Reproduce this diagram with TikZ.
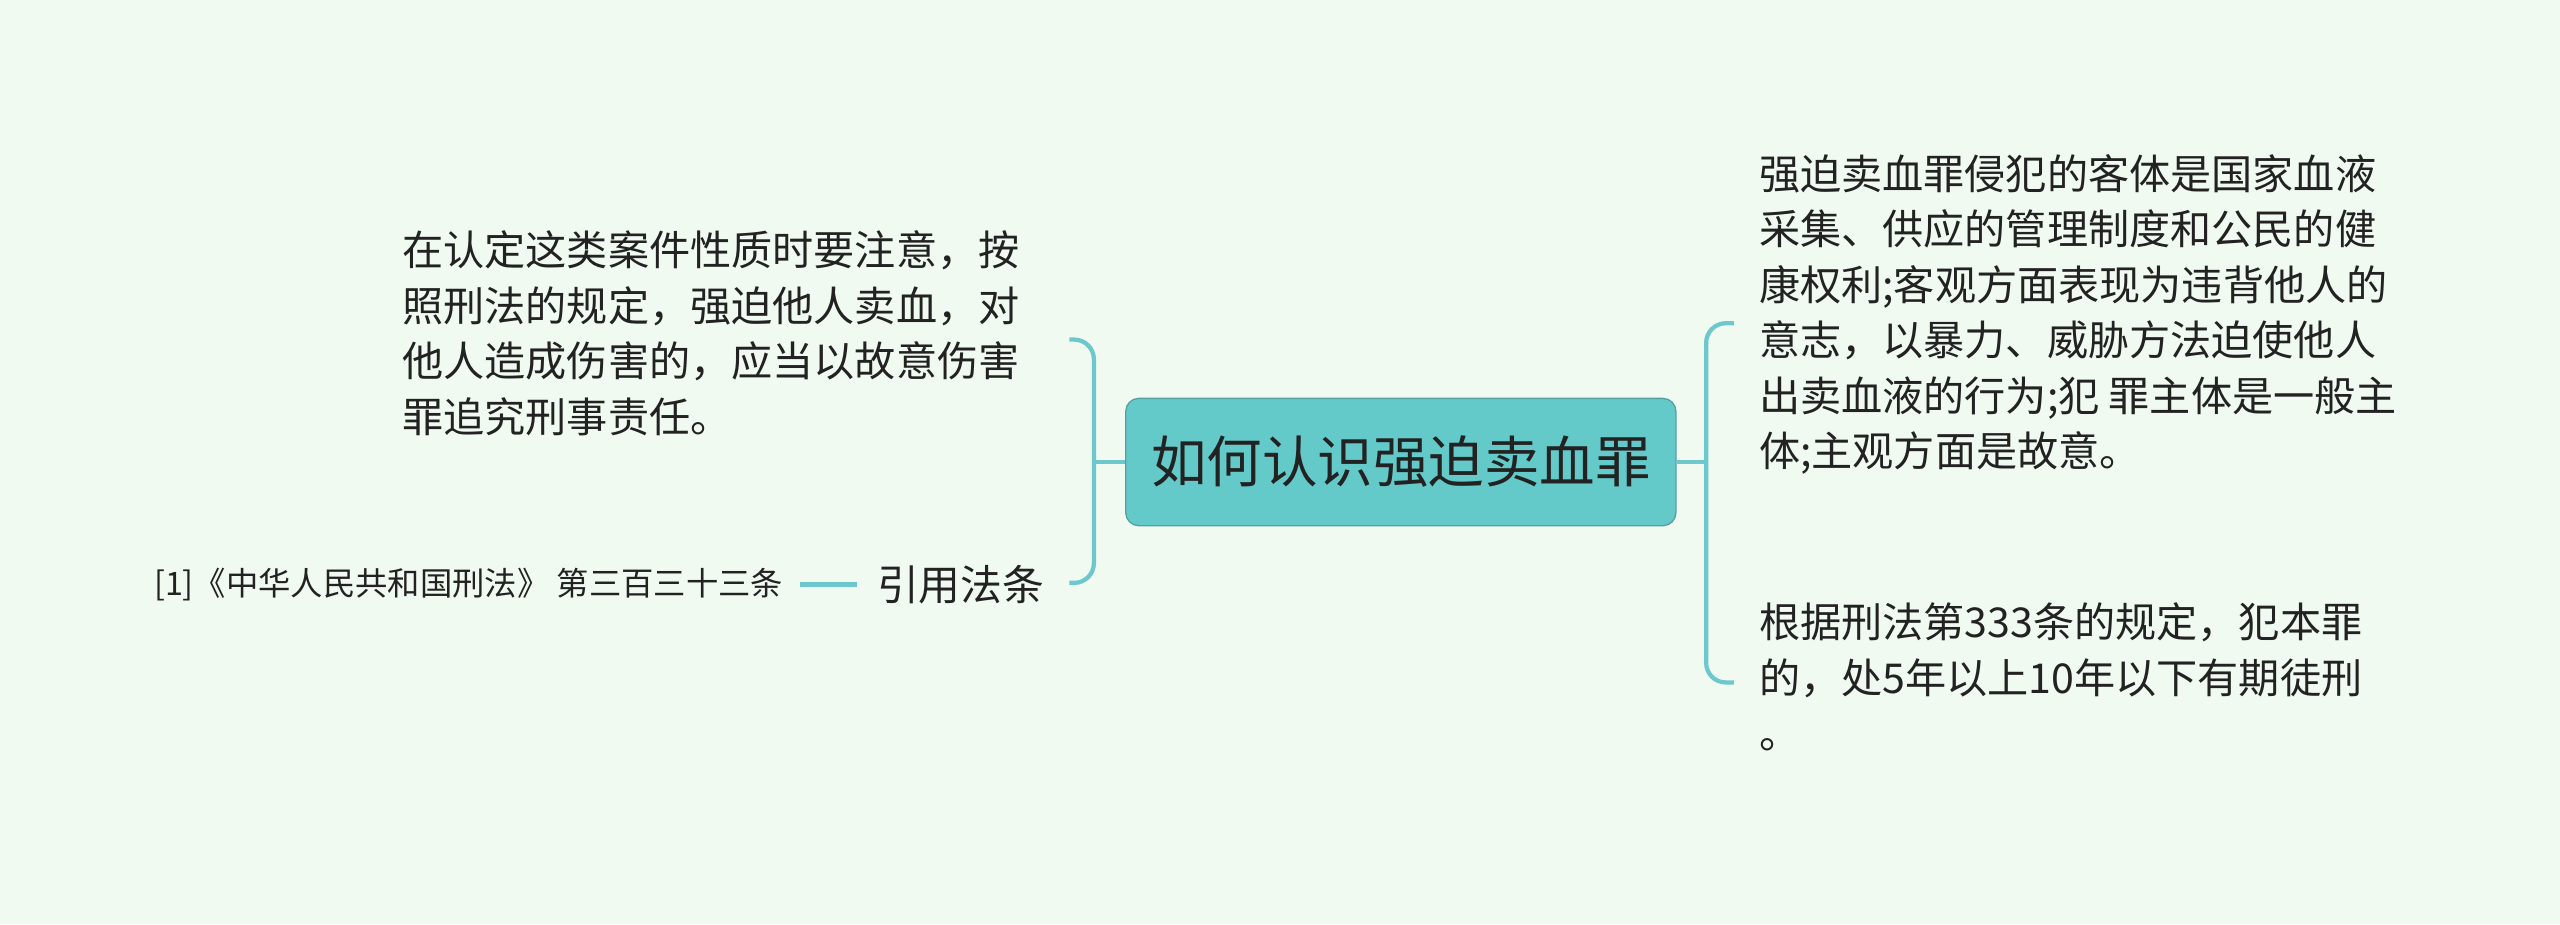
\documentclass[tikz,border=0pt]{standalone}
\usepackage{fontspec}
\setmainfont{Noto Sans CJK SC}
\definecolor{bg}{HTML}{F0FAF0}
\definecolor{cfill}{HTML}{63C9C9}
\definecolor{cline}{HTML}{6CC8CC}
\definecolor{tx}{HTML}{222222}
\begin{document}
\begin{tikzpicture}[x=0.5pt,y=-0.5pt,
  txt/.style={anchor=north west,align=left,inner sep=0pt,font=\fontsize{12.6}{17}\selectfont,text=tx},
  br/.style={draw=cline,line width=1.3pt,rounded corners=6pt}]
\fill[bg] (0,0) rectangle (1568,566);
\useasboundingbox (0,0) rectangle (1568,566);
\node[draw=cline!80!black,fill=cfill,rounded corners=4pt,minimum width=168.5pt,minimum height=39pt,inner sep=0pt,font=\fontsize{17}{20}\selectfont,text=tx] (c) at (858,283) {如何认识强迫卖血罪};
\coordinate (rj) at (1045,283);
\draw[br] (c.east) -- (rj);
\draw[br] (1062,198) -- (1045,198) -- (1045,418) -- (1062,418);
\coordinate (lj) at (670,283);
\draw[br] (c.west) -- (lj);
\draw[br] (655,208) -- (670,208) -- (670,357) -- (655,357);
\node[txt] (r1) at (1077,94) {强迫卖血罪侵犯的客体是国家血液\\采集、供应的管理制度和公民的健\\康权利;客观方面表现为违背他人的\\意志，以暴力、威胁方法迫使他人\\出卖血液的行为;犯 罪主体是一般主\\体;主观方面是故意。};
\node[txt] (r2) at (1077,369) {根据刑法第333条的规定，犯本罪\\的，处5年以上10年以下有期徒刑\\。};
\node[txt] (l1) at (246,141) {在认定这类案件性质时要注意，按\\照刑法的规定，强迫他人卖血，对\\他人造成伤害的，应当以故意伤害\\罪追究刑事责任。};
\node[anchor=east,inner sep=0pt,font=\fontsize{12.8}{15}\selectfont,text=tx] (yy) at (640,358) {引用法条};
\node[anchor=east,inner sep=0pt,font=\fontsize{9.9}{12}\selectfont,text=tx] (law) at (480,358) {[1]《中华人民共和国刑法》 第三百三十三条};
\draw[br] (law.east)++(10,0) -- ++(35,0);
\end{tikzpicture}
\end{document}
